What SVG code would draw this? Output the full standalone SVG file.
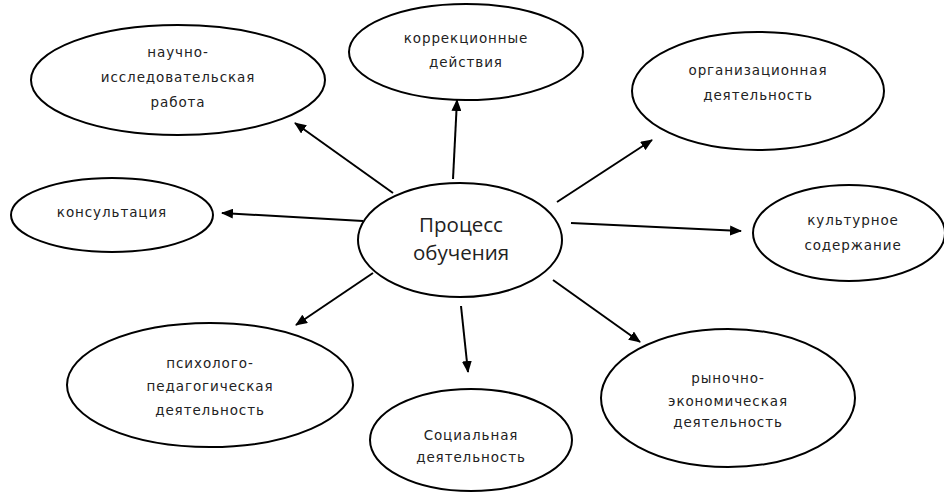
<svg xmlns="http://www.w3.org/2000/svg" width="944" height="497" viewBox="0 0 944 497">
<style>
ellipse{fill:#fff;stroke:#000;stroke-width:2}
text{font-family:"DejaVu Sans",sans-serif;font-size:13.5px;letter-spacing:0.9px;fill:#222;text-anchor:middle}
.big{font-size:20.5px;letter-spacing:0;font-family:"Open Sans","DejaVu Sans",sans-serif}
.c line{stroke:#000;stroke-width:2;marker-end:url(#ah)}
</style>
<defs>
<marker id="ah" markerWidth="12" markerHeight="10" refX="11" refY="5" orient="auto" markerUnits="userSpaceOnUse">
<path d="M0,0 L12,5 L0,10 Z" fill="#000"/>
</marker>
</defs>
<rect width="944" height="497" fill="#fff"/>
<g class="c" id="connectors">
<line x1="393" y1="193" x2="295" y2="123"/>
<line x1="453" y1="179" x2="457" y2="100"/>
<line x1="557" y1="202" x2="652" y2="140"/>
<line x1="363" y1="221" x2="222" y2="213"/>
<line x1="571" y1="223" x2="741" y2="231"/>
<line x1="373" y1="273" x2="296" y2="325"/>
<line x1="461" y1="306" x2="468" y2="372"/>
<line x1="553" y1="280" x2="640" y2="342"/>
</g>
<g id="n1"><ellipse cx="178" cy="80" rx="147" ry="55"/>
<text x="178" y="57">научно-</text><text x="178" y="82">исследовательская</text><text x="178" y="107">работа</text></g>
<g id="n2"><ellipse cx="466" cy="52" rx="117" ry="48"/>
<text x="466" y="43">коррекционные</text><text x="466" y="67">действия</text></g>
<g id="n3"><ellipse cx="758" cy="91" rx="126" ry="59"/>
<text x="758" y="75">организационная</text><text x="758" y="100">деятельность</text></g>
<g id="n4"><ellipse cx="112" cy="215" rx="101" ry="37"/>
<text x="112" y="217">консультация</text></g>
<g id="n5"><ellipse cx="460" cy="240" rx="102" ry="57"/>
<text class="big" x="461" y="232">Процесс</text><text class="big" x="461" y="260">обучения</text></g>
<g id="n6"><ellipse cx="849" cy="233" rx="96" ry="48"/>
<text x="853" y="225">культурное</text><text x="853" y="250">содержание</text></g>
<g id="n7"><ellipse cx="210" cy="385" rx="143" ry="62"/>
<text x="210" y="368">психолого-</text><text x="210" y="391">педагогическая</text><text x="210" y="415">деятельность</text></g>
<g id="n8"><ellipse cx="471" cy="440" rx="101" ry="51"/>
<text x="471" y="440">Социальная</text><text x="471" y="462">деятельность</text></g>
<g id="n9"><ellipse cx="728" cy="398" rx="127" ry="69"/>
<text x="728" y="383">рыночно-</text><text x="728" y="406">экономическая</text><text x="728" y="427">деятельность</text></g>
</svg>
